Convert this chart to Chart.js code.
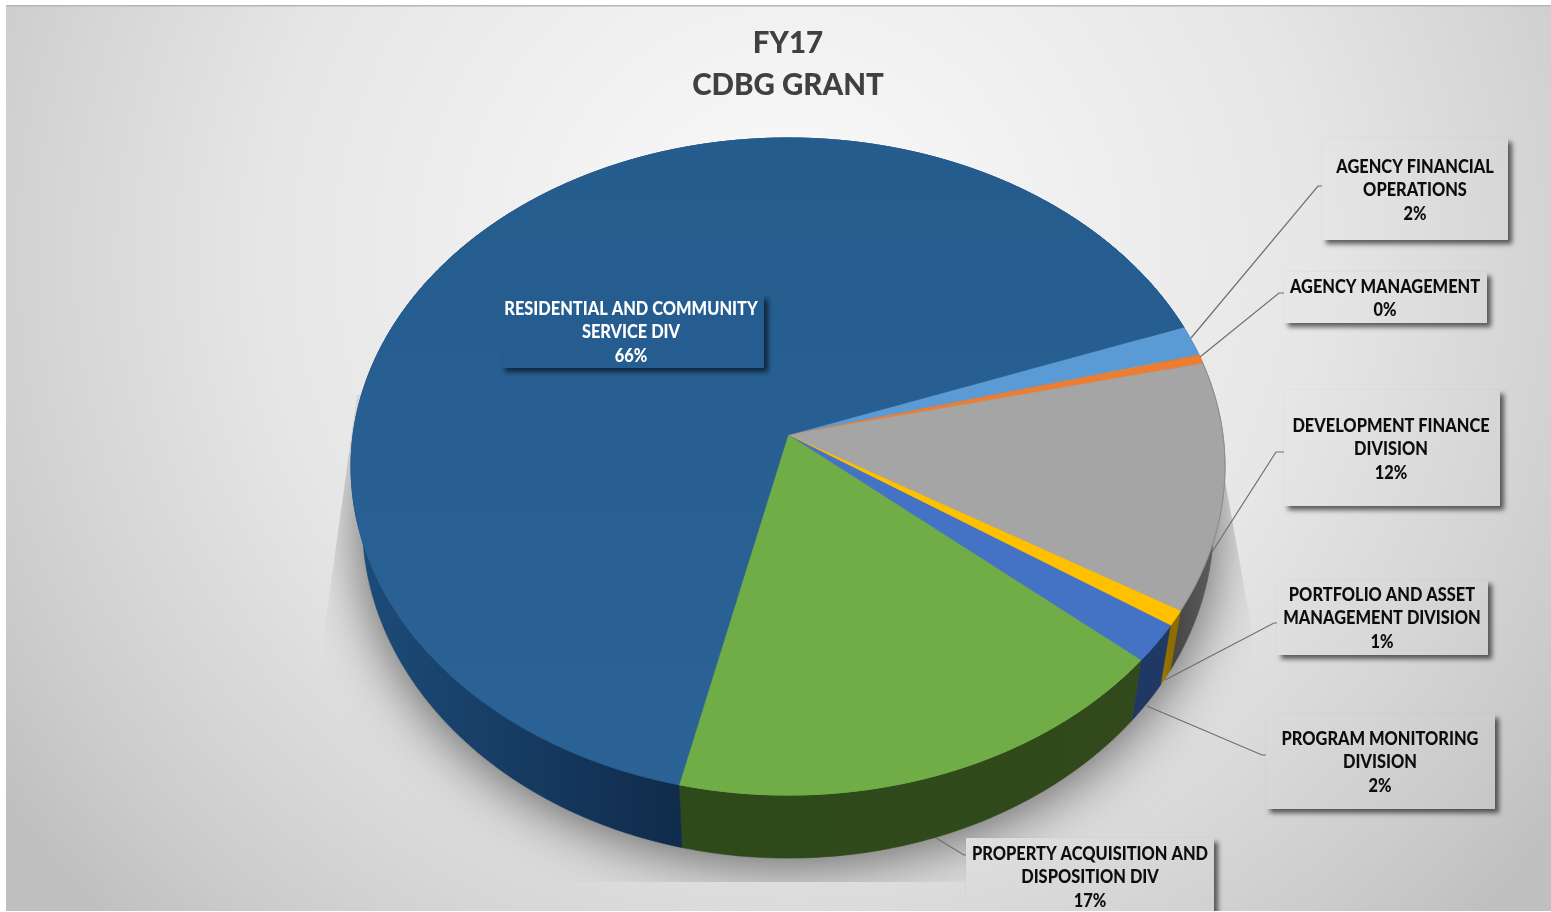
<!DOCTYPE html>
<html><head><meta charset="utf-8">
<style>html,body{margin:0;padding:0;background:#fff}canvas{display:block}</style>
<script src="https://cdn.jsdelivr.net/npm/chart.js@4"></script>
</head><body><canvas id="c" width="1551" height="912"></canvas>
<script>
const titleLines = ['FY17', 'CDBG GRANT'];
const categories = ['AGENCY FINANCIAL OPERATIONS','AGENCY MANAGEMENT','DEVELOPMENT FINANCE DIVISION','PORTFOLIO AND ASSET MANAGEMENT DIVISION','PROGRAM MONITORING DIVISION','PROPERTY ACQUISITION AND DISPOSITION DIV','RESIDENTIAL AND COMMUNITY SERVICE DIV'];
const shares = [1.5, 0.45, 12.2, 0.75, 1.9, 17.4, 65.8];
const topColors = ['#5b9bd5','#ed7d31','#a5a5a5','#ffc000','#4472c4','#70ad47','#265d91'];
const rimColors = ['#5b9bd5','#ed7d31','#8e8e8e','#ffc000','#4472c4','#70ad47','#265d91'];
const wallStart = ['#2f5f8c','#8a4a1c','#444444','#a07a00','#1f3864','#2e4a1a','#1c4b78'];
const wallEnd   = ['#2f5f8c','#8a4a1c','#5c5c5c','#8f6c00','#1f3864','#31491b','#102b4b'];
const labelLines = [['AGENCY FINANCIAL','OPERATIONS'],['AGENCY MANAGEMENT'],['DEVELOPMENT FINANCE','DIVISION'],['PORTFOLIO AND ASSET','MANAGEMENT DIVISION'],['PROGRAM MONITORING','DIVISION'],['PROPERTY ACQUISITION AND','DISPOSITION DIV'],['RESIDENTIAL AND COMMUNITY','SERVICE DIV']];
// label layout: box x0,y0,x1,y1, text centre x, first line middle y
const labelBoxes = [
 [1322,138,1508,240,1415,167],[1284,272,1487,323,1385,287],[1284,390,1500,506,1391,426],
 [1277,580,1488,655,1382,595],[1266,714,1495,809,1380,739],[966,838,1214,930,1090,854],[501,295,764,368,631,309]];
const leaders = [
 [[1191,338],[1318,186],[1324,186]],[[1200,357],[1279,293],[1285,293]],[[1212,552],[1276,452],[1284,452]],
 [[1165,680],[1274,623],[1280,623]],[[1147,706],[1262,755],[1270,755]],[[936,838],[964,855],[970,855]],null];

// perspective view of the pie disc
const K = -0.0959, AX = 1.324, BY = 0.991, APEX = 0.0959;
function topPoint(el, t){
  const R = el.outerRadius, u = Math.cos(t), v = Math.sin(t), d = 1 + K*v;
  return [el.x + AX*R*u/d, el.y - APEX*R + BY*R*v/d];
}
function floorPoint(el, t){
  const p = topPoint(el,t), R = el.outerRadius, ay = el.y - APEX*R;
  return [el.x + (p[0]-el.x)*0.974, ay + (p[1]-ay)*1.02 + 0.17*R];
}
function arcPts(el, fn, a0, a1){
  const n = Math.max(2, Math.ceil(Math.abs(a1-a0)/0.012)), pts=[];
  for(let i=0;i<=n;i++) pts.push(fn(el, a0+(a1-a0)*i/n));
  return pts;
}
Chart.ArcElement.prototype.draw = function(ctx){
  const o = this.options, pts = arcPts(this, topPoint, this.startAngle, this.endAngle);
  ctx.save();
  ctx.beginPath();
  ctx.moveTo(this.x, this.y - APEX*this.outerRadius);
  pts.forEach(p=>ctx.lineTo(p[0],p[1]));
  ctx.closePath();
  ctx.fillStyle = o.backgroundColor; ctx.fill();
  ctx.strokeStyle = o.backgroundColor; ctx.lineWidth = 0.6; ctx.stroke();
  ctx.beginPath();
  pts.forEach((p,i)=> i?ctx.lineTo(p[0],p[1]):ctx.moveTo(p[0],p[1]));
  ctx.strokeStyle = o.borderColor; ctx.lineWidth = 1; ctx.stroke();
  ctx.restore();
};

// backdrop
const bg = document.createElement('canvas'); bg.width=1551; bg.height=912;
(function(){
  const g = bg.getContext('2d');
  g.save();
  g.translate(790,255); g.scale(1.45,1.43);
  const r = g.createRadialGradient(0,0,0,0,0,660);
  r.addColorStop(0,'#fbfbfb'); r.addColorStop(0.55,'#e6e6e6'); r.addColorStop(0.76,'#d6d6d6'); r.addColorStop(0.88,'#cccccc'); r.addColorStop(1,'#c0c0c0');
  g.fillStyle = r; g.fillRect(-2000,-2000,4000,4000);
  g.restore();
})();

function path(c, pts){ pts.forEach((p,i)=> i?c.lineTo(p[0],p[1]):c.moveTo(p[0],p[1])); }

const scenePlugin = {
  id:'scene',
  beforeDraw(chart){
    const c = chart.ctx;
    c.save();
    c.fillStyle='#fff'; c.fillRect(0,0,1551,912);
    c.drawImage(bg,6,5,1545,906,6,5,1545,906);
    c.fillStyle='#b5b5b5'; c.fillRect(6,5,1545,1.5);
    c.restore();
  },
  beforeDatasetsDraw(chart){
    const c = chart.ctx, arcs = chart.getDatasetMeta(0).data, el = arcs[0];
    // floor shadow
    c.save();
    c.beginPath();
    path(c, [[357,395],[323,640],[323,882],[1262,882],[1252,630],[1205,370]]);
    c.closePath(); c.clip();
    c.beginPath();
    path(c, arcPts(el, floorPoint, 0, Math.PI*2));
    c.closePath();
    c.shadowColor='rgba(0,0,0,0.62)'; c.shadowBlur=60; c.shadowOffsetY=4;
    c.fillStyle='#888'; c.fill();
    c.restore();
    // side wall of every slice
    arcs.forEach((a,i)=>{
      const up = arcPts(a, topPoint, a.startAngle, a.endAngle);
      const low = arcPts(a, floorPoint, a.startAngle, a.endAngle);
      const front = low.filter(p=>p[1] > a.y+30);
      const xs = (front.length?front:low).map(p=>p[0]);
      const gr = c.createLinearGradient(Math.min(...xs),0,Math.max(...xs),0);
      gr.addColorStop(0, wallStart[i]); gr.addColorStop(1, wallEnd[i]);
      c.beginPath();
      path(c, up.concat(low.reverse()));
      c.closePath();
      c.fillStyle=gr; c.strokeStyle=gr; c.lineWidth=0.6; c.fill(); c.stroke();
    });
  },
  afterDraw(chart){
    const c = chart.ctx, total = shares.reduce((s,v)=>s+v,0);
    const pat = c.createPattern(bg,'no-repeat');
    leaders.forEach(l=>{
      if(!l) return;
      c.beginPath(); path(c,l);
      c.strokeStyle='#6e6e6e'; c.lineWidth=1.2; c.stroke();
    });
    labelBoxes.forEach((b,i)=>{
      const inside = i===6;
      c.save();
      c.beginPath(); c.rect(0,0,1551,911); c.clip();
      c.shadowColor='rgba(0,0,0,0.6)';
      c.shadowBlur=5; c.shadowOffsetX=4; c.shadowOffsetY=4;
      c.fillStyle= inside?topColors[6]:pat;
      c.fillRect(b[0],b[1],b[2]-b[0],b[3]-b[1]);
      c.shadowColor='transparent';
      const lines = labelLines[i].concat([Math.round(shares[i]/total*100)+'%']);
      c.font='900 18px Lato'; c.textAlign='center'; c.textBaseline='middle';
      c.fillStyle= inside?'#ffffff':'#0d0d0d';
      lines.forEach((t,j)=>{
        c.save();
        c.translate(b[4],b[5]+j*23.5); c.scale(0.91,1);
        c.fillText(t,0,0);
        c.restore();
      });
      c.restore();
    });
  }
};

function sliceFill(ctx){
  if(ctx.dataIndex!==6) return topColors[ctx.dataIndex];
  const g = ctx.chart.ctx.createLinearGradient(0,138,0,795);
  g.addColorStop(0,'#255c8e'); g.addColorStop(1,'#2b6397');
  return g;
}

new Chart(document.getElementById('c'),{
  type:'pie',
  plugins:[scenePlugin],
  data:{labels:categories,datasets:[{data:shares,backgroundColor:sliceFill,borderColor:rimColors,borderWidth:0,clip:false}]},
  options:{
    responsive:false,animation:false,rotation:70,
    layout:{padding:{left:352,right:327,top:0,bottom:117}},
    plugins:{
      legend:{display:false},tooltip:{enabled:false},
      title:{display:true,text:titleLines,color:'#404040',font:{family:'Lato',weight:'900',size:29.5,lineHeight:1.424},padding:{top:22,bottom:32}}
    }
  }
});
</script></body></html>
